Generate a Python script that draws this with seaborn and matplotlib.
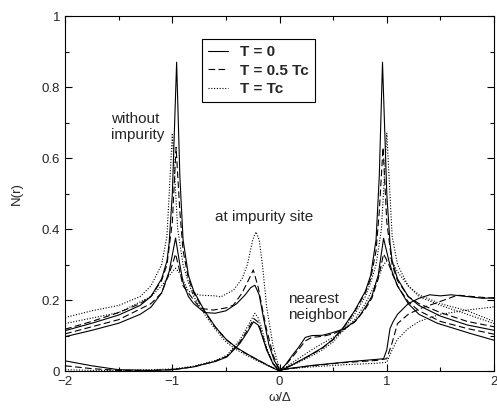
import matplotlib
matplotlib.use("Agg")
import matplotlib.pyplot as plt
import seaborn as sns
from matplotlib.lines import Line2D
from matplotlib.ticker import MultipleLocator

# ---- data (omega / Delta, N(r)) ----
# without impurity
clean_t0_w = [-2, -1.75, -1.5, -1.3, -1.2, -1.1, -1.05, -1.03, -1.0, -0.96, -0.93, -0.9, -0.85, -0.8, -0.7, -0.6, -0.5, -0.4, -0.3, -0.2, -0.1, 0,
              0.1, 0.2, 0.3, 0.4, 0.5, 0.6, 0.7, 0.8, 0.85, 0.9, 0.93, 0.96, 1.0, 1.03, 1.05, 1.1, 1.2, 1.3, 1.5, 1.75, 2]
clean_t0_n = [0.114, 0.135, 0.158, 0.185, 0.21, 0.26, 0.31, 0.36, 0.5, 0.87, 0.55, 0.37, 0.27, 0.225, 0.17, 0.125, 0.09, 0.066, 0.048, 0.031, 0.015, 0.0,
              0.015, 0.031, 0.048, 0.066, 0.09, 0.125, 0.17, 0.225, 0.27, 0.37, 0.55, 0.87, 0.5, 0.36, 0.31, 0.26, 0.21, 0.185, 0.155, 0.13, 0.115]
clean_t05_w = [-2, -1.75, -1.5, -1.3, -1.2, -1.1, -1.05, -1.0, -0.965, -0.93, -0.9, -0.85, -0.8, -0.7, -0.6, -0.5, -0.4, -0.3, -0.2, -0.1, 0,
               0.1, 0.2, 0.3, 0.4, 0.5, 0.6, 0.7, 0.8, 0.85, 0.9, 0.93, 0.965, 1.0, 1.05, 1.1, 1.2, 1.3, 1.5, 1.75, 2]
clean_t05_n = [0.118, 0.14, 0.165, 0.19, 0.21, 0.255, 0.3, 0.42, 0.63, 0.45, 0.34, 0.26, 0.22, 0.168, 0.124, 0.089, 0.065, 0.047, 0.031, 0.015, 0.0,
               0.015, 0.031, 0.047, 0.065, 0.089, 0.124, 0.168, 0.22, 0.26, 0.34, 0.45, 0.63, 0.42, 0.3, 0.255, 0.21, 0.19, 0.165, 0.14, 0.125]
clean_tc_w = [-2, -1.75, -1.5, -1.3, -1.2, -1.1, -1.05, -1.0, -0.95, -0.9, -0.85, -0.8, -0.7, -0.6, -0.5, -0.4, -0.3, -0.2, -0.1, 0,
              0.1, 0.2, 0.3, 0.4, 0.5, 0.6, 0.7, 0.8, 0.85, 0.9, 0.95, 1.0, 1.05, 1.1, 1.2, 1.3, 1.5, 1.75, 2]
clean_tc_n = [0.151, 0.17, 0.185, 0.21, 0.24, 0.3, 0.38, 0.67, 0.4, 0.3, 0.25, 0.21, 0.16, 0.118, 0.082, 0.06, 0.043, 0.028, 0.014, 0.002,
              0.014, 0.028, 0.043, 0.06, 0.082, 0.118, 0.16, 0.21, 0.25, 0.3, 0.4, 0.67, 0.38, 0.3, 0.24, 0.21, 0.185, 0.16, 0.134]

# at impurity site
site_t0_w = [-2, -1.75, -1.5, -1.3, -1.2, -1.1, -1.03, -0.97, -0.93, -0.9, -0.85, -0.8, -0.7, -0.6, -0.5, -0.4, -0.32, -0.27, -0.23, -0.19, -0.15, -0.1, -0.05, 0,
             0.1, 0.3, 0.5, 0.7, 0.9, 0.97, 1.0, 1.03, 1.06, 1.1, 1.2, 1.3, 1.4, 1.5, 1.6, 1.75, 1.9, 2]
site_t0_n = [0.097, 0.115, 0.135, 0.16, 0.18, 0.22, 0.28, 0.375, 0.3, 0.25, 0.21, 0.19, 0.165, 0.163, 0.17, 0.19, 0.215, 0.235, 0.242, 0.215, 0.15, 0.075, 0.03, 0.003,
             0.008, 0.016, 0.022, 0.028, 0.033, 0.035, 0.06, 0.12, 0.14, 0.16, 0.19, 0.205, 0.215, 0.212, 0.215, 0.21, 0.205, 0.207]
site_t05_w = [-2, -1.5, -1.2, -1.1, -1.0, -0.97, -0.93, -0.9, -0.8, -0.74, -0.62, -0.5, -0.43, -0.35, -0.3, -0.245, -0.2, -0.15, -0.12, -0.06, 0,
              0.3, 0.6, 0.9, 1.0, 1.05, 1.1, 1.2, 1.3, 1.47, 1.66, 1.8, 2]
site_t05_n = [0.105, 0.145, 0.19, 0.22, 0.3, 0.33, 0.28, 0.24, 0.2, 0.177, 0.172, 0.178, 0.186, 0.22, 0.25, 0.285, 0.237, 0.16, 0.116, 0.045, 0.003,
              0.015, 0.024, 0.03, 0.035, 0.08, 0.134, 0.16, 0.175, 0.193, 0.214, 0.21, 0.205]
site_tc_w = [-2, -1.5, -1.2, -1.1, -1.0, -0.97, -0.93, -0.85, -0.74, -0.6, -0.55, -0.43, -0.35, -0.3, -0.25, -0.22, -0.19, -0.16, -0.12, -0.06, 0,
             0.3, 0.6, 0.9, 1.0, 1.05, 1.1, 1.2, 1.3, 1.5, 1.75, 2]
site_tc_n = [0.134, 0.165, 0.21, 0.24, 0.28, 0.29, 0.275, 0.225, 0.214, 0.212, 0.209, 0.228, 0.26, 0.3, 0.37, 0.392, 0.37, 0.3, 0.18, 0.07, 0.005,
             0.012, 0.018, 0.022, 0.025, 0.06, 0.09, 0.12, 0.14, 0.16, 0.172, 0.181]

# nearest neighbor
nn_t0_w = [-2, -1.75, -1.5, -1.2, -1.0, -0.8, -0.74, -0.6, -0.49, -0.37, -0.3, -0.244, -0.2, -0.18, -0.12, -0.06, 0,
           0.06, 0.12, 0.18, 0.24, 0.3, 0.4, 0.49, 0.61, 0.7, 0.74, 0.8, 0.86, 0.92, 0.97, 1.02, 1.05, 1.1, 1.2, 1.3, 1.47, 1.78, 2]
nn_t0_n = [0.029, 0.015, 0.004, 0.002, 0.004, 0.012, 0.017, 0.027, 0.04, 0.078, 0.11, 0.139, 0.13, 0.115, 0.059, 0.02, 0.0,
           0.02, 0.045, 0.068, 0.095, 0.1, 0.101, 0.108, 0.12, 0.14, 0.153, 0.18, 0.21, 0.27, 0.374, 0.31, 0.28, 0.24, 0.19, 0.16, 0.135, 0.106, 0.087]
nn_t05_w = [-2, -1.75, -1.5, -1.2, -1.0, -0.8, -0.6, -0.49, -0.37, -0.3, -0.24, -0.2, -0.18, -0.12, -0.06, 0,
            0.06, 0.12, 0.18, 0.24, 0.3, 0.4, 0.5, 0.6, 0.7, 0.8, 0.86, 0.92, 0.97, 1.02, 1.05, 1.1, 1.2, 1.3, 1.5, 1.75, 2]
nn_t05_n = [0.015, 0.007, 0.002, 0.002, 0.004, 0.012, 0.028, 0.042, 0.082, 0.115, 0.148, 0.138, 0.12, 0.062, 0.021, 0.0,
            0.018, 0.04, 0.062, 0.085, 0.095, 0.098, 0.105, 0.118, 0.138, 0.175, 0.205, 0.26, 0.33, 0.3, 0.275, 0.24, 0.195, 0.17, 0.14, 0.12, 0.104]
nn_tc_w = [-2, -1.75, -1.5, -1.2, -1.0, -0.8, -0.6, -0.49, -0.37, -0.3, -0.23, -0.2, -0.17, -0.12, -0.06, 0,
           0.1, 0.2, 0.3, 0.4, 0.5, 0.6, 0.7, 0.8, 0.9, 0.97, 1.03, 1.1, 1.2, 1.3, 1.5, 1.75, 2]
nn_tc_n = [0.004, 0.002, 0.002, 0.004, 0.006, 0.014, 0.03, 0.045, 0.088, 0.125, 0.163, 0.15, 0.125, 0.065, 0.022, 0.0,
           0.02, 0.04, 0.06, 0.078, 0.095, 0.115, 0.145, 0.19, 0.25, 0.3, 0.32, 0.28, 0.24, 0.215, 0.19, 0.17, 0.14]

legend_labels = ["T = 0", "T = 0.5 Tc", "T = Tc"]

sns.set_style("ticks")
plt.rcParams["font.family"] = ["Liberation Sans", "DejaVu Sans"]
plt.rcParams["xtick.direction"] = "in"
plt.rcParams["ytick.direction"] = "in"

styles = ["-", (0, (6, 3)), (0, (1, 1.5))]

fig, ax = plt.subplots(figsize=(4.97, 4.11), dpi=100)
fig.subplots_adjust(left=0.131, right=0.994, bottom=0.097, top=0.961)

curves = [
    (clean_t0_w, clean_t0_n, 0), (clean_t05_w, clean_t05_n, 1), (clean_tc_w, clean_tc_n, 2),
    (site_t0_w, site_t0_n, 0), (site_t05_w, site_t05_n, 1), (site_tc_w, site_tc_n, 2),
    (nn_t0_w, nn_t0_n, 0), (nn_t05_w, nn_t05_n, 1), (nn_tc_w, nn_tc_n, 2),
]
for w, n, k in curves:
    sns.lineplot(x=w, y=n, ax=ax, color="black", linewidth=0.8,
                 linestyle=styles[k], sort=False, estimator=None)

ax.set_xlim(-2, 2)
ax.set_ylim(0, 1)
ax.xaxis.set_major_locator(MultipleLocator(1))
ax.xaxis.set_minor_locator(MultipleLocator(0.5))
ax.yaxis.set_major_locator(MultipleLocator(0.2))
ax.yaxis.set_minor_locator(MultipleLocator(0.1))
ax.yaxis.set_major_formatter(plt.FuncFormatter(lambda v, p: f"{v:g}"))
ax.xaxis.set_major_formatter(plt.FuncFormatter(lambda v, p: f"{v:g}".replace("-", "\u2212")))
ax.tick_params(which="both", top=True, right=True, labelsize=9.5, width=0.8, color="black")
ax.tick_params(which="major", length=5)
ax.tick_params(which="minor", length=3)
for s in ax.spines.values():
    s.set_linewidth(0.8)
    s.set_color("black")

ax.set_xlabel("\u03c9/\u0394", fontsize=9.5, labelpad=3)
ax.set_ylabel("N(r)", fontsize=9.5, labelpad=14)

ax.text(-1.571, 0.687, "without\nimpurity", fontsize=11, ha="left", va="center", linespacing=1.15)
ax.text(-0.601, 0.434, "at impurity site", fontsize=11, ha="left", va="center")
ax.text(0.079, 0.18, "nearest\nneighbor", fontsize=11, ha="left", va="center", linespacing=1.15)

handles = [Line2D([], [], color="black", linewidth=0.8, linestyle=s) for s in styles]
leg = ax.legend(handles, legend_labels, loc="upper left", bbox_to_anchor=(0.319, 0.935),
                borderaxespad=0, frameon=True, fancybox=False, framealpha=1,
                edgecolor="black", handlelength=1.3, handletextpad=0.8,
                labelspacing=0.3, borderpad=0.4, prop={"weight": "bold", "size": 11})
leg.get_frame().set_linewidth(0.8)

fig.savefig("out.png", dpi=100)
